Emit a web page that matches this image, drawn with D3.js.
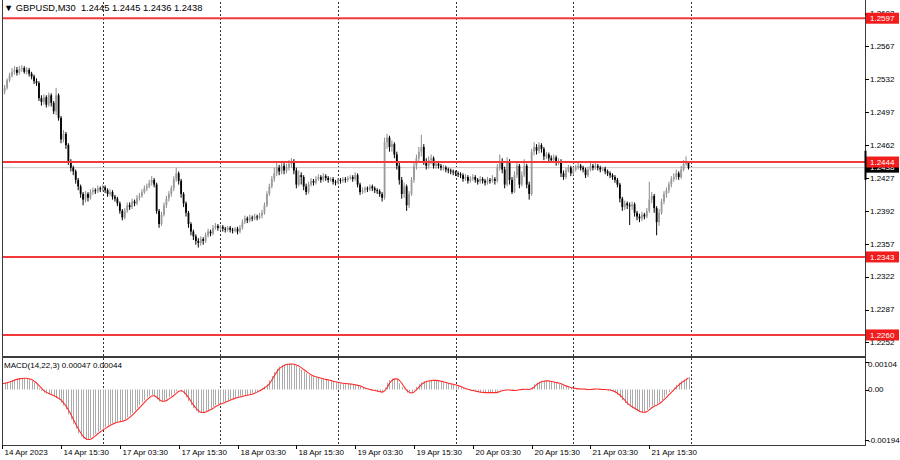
<!DOCTYPE html>
<html><head><meta charset="utf-8">
<script src="https://cdn.jsdelivr.net/npm/d3@7/dist/d3.min.js"></script>
<style>
body{margin:0;background:#fff}
svg{display:block}
text{font-family:"Liberation Sans",Arial,sans-serif;font-size:8px;fill:#000}
text.hdr{font-size:9.3px}
</style>
</head><body><svg id="chart" width="900" height="460"></svg>
<script>
const symbolTitle = "GBPUSD,M30";
const macdTitle = "MACD(14,22,3)";

const opens = [1.2515,1.2519,1.2523,1.2531,1.2536,1.2540,1.2542,1.2539,1.2543,1.2544,
1.2540,1.2542,1.2538,1.2535,1.2530,1.2528,1.2512,1.2508,1.2513,1.2505,
1.2515,1.2507,1.2498,1.2515,1.2491,1.2468,1.2474,1.2462,1.2445,1.2438,
1.2434,1.2425,1.2418,1.2410,1.2404,1.2410,1.2406,1.2412,1.2414,1.2413,
1.2416,1.2415,1.2417,1.2414,1.2410,1.2412,1.2407,1.2405,1.2400,1.2392,
1.2385,1.2392,1.2398,1.2396,1.2402,1.2400,1.2406,1.2408,1.2412,1.2416,
1.2418,1.2422,1.2425,1.2420,1.2392,1.2378,1.2388,1.2398,1.2405,1.2410,
1.2416,1.2426,1.2432,1.2424,1.2410,1.2400,1.2390,1.2378,1.2370,1.2365,
1.2360,1.2358,1.2362,1.2360,1.2366,1.2370,1.2368,1.2374,1.2376,1.2374,
1.2375,1.2373,1.2372,1.2374,1.2372,1.2371,1.2373,1.2370,1.2374,1.2380,
1.2384,1.2382,1.2385,1.2384,1.2386,1.2385,1.2387,1.2390,1.2398,1.2410,
1.2418,1.2426,1.2432,1.2438,1.2434,1.2440,1.2435,1.2438,1.2442,1.2445,
1.2435,1.2420,1.2430,1.2428,1.2418,1.2412,1.2420,1.2424,1.2422,1.2426,
1.2428,1.2425,1.2429,1.2427,1.2425,1.2426,1.2423,1.2422,1.2425,1.2424,
1.2426,1.2425,1.2427,1.2428,1.2426,1.2430,1.2420,1.2412,1.2414,1.2416,
1.2415,1.2418,1.2416,1.2414,1.2413,1.2410,1.2406,1.2465,1.2470,1.2460,
1.2463,1.2452,1.2440,1.2425,1.2410,1.2418,1.2398,1.2410,1.2425,1.2440,
1.2448,1.2455,1.2460,1.2445,1.2440,1.2446,1.2448,1.2440,1.2442,1.2440,
1.2438,1.2438,1.2436,1.2435,1.2434,1.2433,1.2432,1.2431,1.2430,1.2426,
1.2428,1.2424,1.2426,1.2428,1.2425,1.2423,1.2426,1.2424,1.2422,1.2425,
1.2424,1.2426,1.2424,1.2438,1.2445,1.2436,1.2420,1.2445,1.2425,1.2412,
1.2430,1.2440,1.2420,1.2430,1.2440,1.2420,1.2410,1.2455,1.2460,1.2456,
1.2462,1.2458,1.2450,1.2452,1.2448,1.2446,1.2449,1.2444,1.2445,1.2432,
1.2428,1.2435,1.2438,1.2432,1.2436,1.2438,1.2440,1.2438,1.2436,1.2430,
1.2436,1.2440,1.2438,1.2440,1.2438,1.2436,1.2437,1.2434,1.2432,1.2430,
1.2428,1.2425,1.2420,1.2405,1.2396,1.2400,1.2398,1.2397,1.2399,1.2390,
1.2386,1.2384,1.2388,1.2386,1.2392,1.2404,1.2408,1.2395,1.2380,1.2390,
1.2402,1.2410,1.2414,1.2420,1.2426,1.2428,1.2432,1.2428,1.2436,1.2442,
1.2445];

const highs = [1.2522,1.2526,1.2533,1.2539,1.2544,1.2546,1.2545,1.2546,1.2547,1.2546,
1.2545,1.2544,1.2540,1.2537,1.2533,1.2530,1.2515,1.2516,1.2515,1.2518,
1.2517,1.2509,1.2523,1.2517,1.2493,1.2478,1.2476,1.2464,1.2447,1.2440,
1.2436,1.2427,1.2420,1.2412,1.2413,1.2412,1.2415,1.2417,1.2416,1.2419,
1.2418,1.2420,1.2419,1.2416,1.2415,1.2414,1.2409,1.2407,1.2402,1.2394,
1.2395,1.2401,1.2401,1.2405,1.2404,1.2409,1.2411,1.2415,1.2419,1.2421,
1.2425,1.2429,1.2427,1.2422,1.2394,1.2391,1.2401,1.2408,1.2413,1.2419,
1.2429,1.2438,1.2434,1.2426,1.2412,1.2402,1.2392,1.2380,1.2372,1.2367,
1.2363,1.2365,1.2364,1.2369,1.2373,1.2372,1.2377,1.2379,1.2378,1.2377,
1.2377,1.2375,1.2376,1.2376,1.2374,1.2375,1.2375,1.2377,1.2383,1.2387,
1.2386,1.2388,1.2387,1.2389,1.2388,1.2390,1.2393,1.2401,1.2413,1.2421,
1.2429,1.2438,1.2443,1.2441,1.2444,1.2443,1.2442,1.2446,1.2448,1.2447,
1.2438,1.2435,1.2433,1.2430,1.2421,1.2423,1.2427,1.2426,1.2429,1.2431,
1.2430,1.2432,1.2431,1.2429,1.2428,1.2428,1.2425,1.2427,1.2427,1.2428,
1.2428,1.2429,1.2430,1.2430,1.2433,1.2432,1.2422,1.2417,1.2418,1.2418,
1.2420,1.2420,1.2418,1.2416,1.2415,1.2412,1.2470,1.2474,1.2472,1.2467,
1.2465,1.2455,1.2443,1.2428,1.2422,1.2420,1.2413,1.2428,1.2443,1.2452,
1.2460,1.2473,1.2463,1.2448,1.2450,1.2452,1.2450,1.2445,1.2444,1.2442,
1.2441,1.2440,1.2438,1.2437,1.2436,1.2435,1.2434,1.2433,1.2432,1.2431,
1.2430,1.2429,1.2431,1.2430,1.2427,1.2429,1.2428,1.2426,1.2428,1.2427,
1.2430,1.2428,1.2442,1.2452,1.2448,1.2439,1.2449,1.2447,1.2428,1.2434,
1.2444,1.2442,1.2434,1.2447,1.2442,1.2423,1.2458,1.2465,1.2463,1.2465,
1.2464,1.2460,1.2455,1.2454,1.2451,1.2452,1.2451,1.2448,1.2447,1.2435,
1.2438,1.2441,1.2440,1.2439,1.2441,1.2443,1.2442,1.2440,1.2438,1.2439,
1.2443,1.2442,1.2443,1.2442,1.2440,1.2439,1.2439,1.2436,1.2434,1.2432,
1.2430,1.2427,1.2422,1.2407,1.2403,1.2402,1.2401,1.2402,1.2401,1.2392,
1.2389,1.2391,1.2390,1.2395,1.2423,1.2412,1.2410,1.2397,1.2394,1.2405,
1.2413,1.2417,1.2423,1.2429,1.2432,1.2436,1.2434,1.2440,1.2446,1.2450,
1.2445];

const lows = [1.2510,1.2516,1.2521,1.2529,1.2534,1.2537,1.2536,1.2537,1.2540,1.2538,
1.2537,1.2535,1.2532,1.2527,1.2525,1.2509,1.2504,1.2505,1.2502,1.2503,
1.2503,1.2495,1.2494,1.2488,1.2464,1.2465,1.2458,1.2441,1.2434,1.2430,
1.2421,1.2414,1.2406,1.2398,1.2401,1.2402,1.2404,1.2409,1.2410,1.2411,
1.2412,1.2413,1.2411,1.2407,1.2408,1.2404,1.2402,1.2397,1.2389,1.2382,
1.2383,1.2390,1.2393,1.2394,1.2397,1.2398,1.2403,1.2406,1.2410,1.2413,
1.2416,1.2419,1.2417,1.2389,1.2374,1.2376,1.2386,1.2395,1.2402,1.2407,
1.2413,1.2423,1.2420,1.2406,1.2396,1.2386,1.2374,1.2366,1.2361,1.2356,
1.2353,1.2355,1.2356,1.2358,1.2364,1.2365,1.2366,1.2372,1.2371,1.2372,
1.2370,1.2369,1.2370,1.2369,1.2368,1.2369,1.2367,1.2368,1.2372,1.2378,
1.2379,1.2380,1.2381,1.2382,1.2382,1.2383,1.2384,1.2388,1.2396,1.2408,
1.2416,1.2423,1.2429,1.2430,1.2431,1.2431,1.2432,1.2435,1.2438,1.2431,
1.2416,1.2418,1.2420,1.2414,1.2409,1.2410,1.2418,1.2419,1.2420,1.2424,
1.2422,1.2423,1.2424,1.2422,1.2423,1.2420,1.2419,1.2420,1.2421,1.2422,
1.2422,1.2423,1.2425,1.2423,1.2424,1.2417,1.2409,1.2410,1.2411,1.2412,
1.2413,1.2413,1.2411,1.2410,1.2407,1.2402,1.2404,1.2458,1.2455,1.2455,
1.2448,1.2436,1.2420,1.2405,1.2406,1.2392,1.2395,1.2408,1.2422,1.2436,
1.2444,1.2450,1.2441,1.2436,1.2437,1.2442,1.2437,1.2437,1.2437,1.2435,
1.2435,1.2433,1.2432,1.2431,1.2430,1.2429,1.2428,1.2427,1.2423,1.2424,
1.2421,1.2422,1.2424,1.2422,1.2420,1.2421,1.2421,1.2419,1.2420,1.2421,
1.2422,1.2420,1.2422,1.2435,1.2432,1.2416,1.2418,1.2420,1.2410,1.2411,
1.2427,1.2416,1.2418,1.2428,1.2416,1.2404,1.2408,1.2451,1.2452,1.2453,
1.2454,1.2446,1.2447,1.2444,1.2443,1.2443,1.2440,1.2441,1.2428,1.2425,
1.2426,1.2433,1.2429,1.2430,1.2434,1.2436,1.2435,1.2433,1.2427,1.2428,
1.2434,1.2435,1.2436,1.2435,1.2433,1.2434,1.2431,1.2429,1.2427,1.2425,
1.2422,1.2417,1.2401,1.2392,1.2393,1.2394,1.2377,1.2393,1.2386,1.2382,
1.2380,1.2381,1.2383,1.2384,1.2390,1.2400,1.2390,1.2366,1.2376,1.2388,
1.2399,1.2406,1.2411,1.2417,1.2423,1.2425,1.2425,1.2426,1.2434,1.2440,
1.2436];

const closes = [1.2519,1.2523,1.2531,1.2536,1.2540,1.2542,1.2539,1.2543,1.2544,1.2540,
1.2542,1.2538,1.2535,1.2530,1.2528,1.2512,1.2508,1.2513,1.2505,1.2515,
1.2507,1.2498,1.2515,1.2491,1.2468,1.2474,1.2462,1.2445,1.2438,1.2434,
1.2425,1.2418,1.2410,1.2404,1.2410,1.2406,1.2412,1.2414,1.2413,1.2416,
1.2415,1.2417,1.2414,1.2410,1.2412,1.2407,1.2405,1.2400,1.2392,1.2385,
1.2392,1.2398,1.2396,1.2402,1.2400,1.2406,1.2408,1.2412,1.2416,1.2418,
1.2422,1.2425,1.2420,1.2392,1.2378,1.2388,1.2398,1.2405,1.2410,1.2416,
1.2426,1.2432,1.2424,1.2410,1.2400,1.2390,1.2378,1.2370,1.2365,1.2360,
1.2358,1.2362,1.2360,1.2366,1.2370,1.2368,1.2374,1.2376,1.2374,1.2375,
1.2373,1.2372,1.2374,1.2372,1.2371,1.2373,1.2370,1.2374,1.2380,1.2384,
1.2382,1.2385,1.2384,1.2386,1.2385,1.2387,1.2390,1.2398,1.2410,1.2418,
1.2426,1.2432,1.2438,1.2434,1.2440,1.2435,1.2438,1.2442,1.2445,1.2435,
1.2420,1.2430,1.2428,1.2418,1.2412,1.2420,1.2424,1.2422,1.2426,1.2428,
1.2425,1.2429,1.2427,1.2425,1.2426,1.2423,1.2422,1.2425,1.2424,1.2426,
1.2425,1.2427,1.2428,1.2426,1.2430,1.2420,1.2412,1.2414,1.2416,1.2415,
1.2418,1.2416,1.2414,1.2413,1.2410,1.2406,1.2465,1.2470,1.2460,1.2463,
1.2452,1.2440,1.2425,1.2410,1.2418,1.2398,1.2410,1.2425,1.2440,1.2448,
1.2455,1.2460,1.2445,1.2440,1.2446,1.2448,1.2440,1.2442,1.2440,1.2438,
1.2438,1.2436,1.2435,1.2434,1.2433,1.2432,1.2431,1.2430,1.2426,1.2428,
1.2424,1.2426,1.2428,1.2425,1.2423,1.2426,1.2424,1.2422,1.2425,1.2424,
1.2426,1.2424,1.2438,1.2445,1.2436,1.2420,1.2445,1.2425,1.2412,1.2430,
1.2440,1.2420,1.2430,1.2440,1.2420,1.2410,1.2455,1.2460,1.2456,1.2462,
1.2458,1.2450,1.2452,1.2448,1.2446,1.2449,1.2444,1.2445,1.2432,1.2428,
1.2435,1.2438,1.2432,1.2436,1.2438,1.2440,1.2438,1.2436,1.2430,1.2436,
1.2440,1.2438,1.2440,1.2438,1.2436,1.2437,1.2434,1.2432,1.2430,1.2428,
1.2425,1.2420,1.2405,1.2396,1.2400,1.2398,1.2397,1.2399,1.2390,1.2386,
1.2384,1.2388,1.2386,1.2392,1.2404,1.2408,1.2395,1.2380,1.2390,1.2402,
1.2410,1.2414,1.2420,1.2426,1.2428,1.2432,1.2428,1.2436,1.2442,1.2445,
1.2438];

// MACD main and signal, in units of 0.00001
const macdMain = [24,26,29,32,36,39,41,42,43,43,
42,39,33,25,16,5,-6,-12,-16,-18,
-22,-28,-33,-40,-50,-62,-76,-95,-115,-132,
-150,-168,-180,-189,-194,-192,-186,-178,-170,-162,
-156,-150,-144,-138,-133,-129,-126,-124,-122,-120,
-114,-107,-99,-90,-80,-70,-60,-50,-40,-31,
-24,-21,-28,-38,-46,-47,-42,-36,-30,-24,
-15,-6,0,-8,-18,-30,-45,-60,-71,-82,
-89,-89,-86,-82,-79,-73,-66,-60,-56,-53,
-49,-45,-41,-37,-34,-31,-29,-26,-24,-22,
-21,-18,-14,-10,-5,0,6,12,20,35,
52,68,80,88,93,96,98,98,97,95,
91,84,77,70,62,56,52,49,46,44,
41,39,37,35,32,30,28,26,24,23,
22,21,20,18,17,14,10,6,3,0,
-2,-4,-6,-8,-10,-12,8,26,36,42,
43,38,24,10,-3,-12,-15,-12,-2,10,
20,28,31,33,34,35,35,34,32,30,
27,24,22,20,18,16,12,8,4,1,
-2,-4,-6,-8,-10,-11,-12,-12,-12,-13,
-12,-12,-8,-4,-3,-3,-1,-3,-5,-3,
-1,0,1,2,0,-2,10,20,26,30,
33,34,33,31,29,27,25,22,18,14,
11,8,6,4,3,2,2,1,0,0,
1,2,2,1,0,0,-1,-2,-4,-8,
-14,-20,-30,-42,-52,-60,-66,-72,-78,-83,
-87,-89,-85,-78,-70,-63,-60,-56,-48,-40,
-30,-20,-10,-2,8,18,26,32,38,43,
47];

const macdSignal = [22,24,26,29,32,36,39,41,42,43,
43,41,38,32,25,15,5,-4,-11,-15,
-19,-23,-28,-34,-41,-51,-63,-78,-95,-114,
-132,-150,-166,-179,-188,-192,-191,-185,-178,-170,
-163,-156,-150,-144,-138,-133,-129,-126,-124,-122,
-119,-114,-107,-99,-90,-80,-70,-60,-50,-40,
-32,-25,-24,-29,-37,-44,-45,-42,-36,-30,
-23,-15,-7,-5,-9,-19,-31,-45,-59,-71,
-81,-87,-88,-86,-82,-78,-73,-66,-61,-56,
-53,-49,-45,-41,-37,-34,-31,-29,-26,-24,
-22,-20,-18,-14,-10,-5,0,6,13,22,
36,52,67,79,87,92,96,97,98,97,
94,90,84,77,70,63,57,52,49,46,
44,41,39,37,35,32,30,28,26,24,
23,22,21,20,18,16,14,10,6,3,
0,-2,-4,-6,-8,-10,-5,7,23,35,
40,41,35,24,10,-2,-10,-13,-10,-1,
9,19,26,31,33,34,35,35,34,32,
30,27,24,22,20,18,15,12,8,4,
1,-2,-4,-6,-8,-10,-11,-12,-12,-12,
-12,-12,-11,-8,-5,-3,-2,-2,-3,-4,
-3,-1,0,1,1,0,3,9,19,25,
30,32,33,33,31,29,27,25,22,18,
14,11,8,6,4,3,2,2,1,0,
0,1,2,2,1,0,0,-1,-2,-5,
-9,-14,-21,-31,-41,-51,-59,-66,-72,-78,
-83,-86,-87,-84,-78,-70,-64,-60,-55,-48,
-39,-30,-20,-11,-1,8,17,25,32,38,
44];
const macdUnit = 0.00001;

const levelPrices = [1.2597, 1.2444, 1.2343, 1.2260];
const bidPrice = 1.2438;
const priceTicks = [1.2602, 1.2567, 1.2532, 1.2497, 1.2462, 1.2427, 1.2392, 1.2357, 1.2322, 1.2287, 1.2252];
const macdTicks = [0.00104, 0, -0.00194];
const macdTickLabels = ["0.00104", "0.00", "-0.00194"];
const timeLabels = ["14 Apr 2023","14 Apr 15:30","17 Apr 03:30","17 Apr 15:30","18 Apr 03:30","18 Apr 15:30",
  "19 Apr 03:30","19 Apr 15:30","20 Apr 03:30","20 Apr 15:30","21 Apr 03:30","21 Apr 15:30"];
const timeLabelBars = [0,24,48,72,96,120,144,168,192,216,240,264];
const dayGridBars = [41,89,137,185,233,281];

// ---------- drawing ----------
const svg = d3.select("#chart");
const W = 900, H = 460;
const plotL = 2, plotR = 865;
const mainTop = 2, mainBot = 356;
const subTop = 358, subBot = 445;

const n = closes.length;
const x = d3.scaleLinear().domain([0, n - 1]).range([2.2, 688.5]);
const y = d3.scaleLinear().domain([1.22376, 1.26132]).range([mainBot, 3]);
const yM = d3.scaleLinear().domain([-0.00213, 0.00121]).range([subBot, subTop]);

svg.append("rect").attr("width", W).attr("height", H).attr("fill", "#fff");

const defs = svg.append("defs");
defs.append("clipPath").attr("id", "clipMain").append("rect")
  .attr("x", plotL).attr("y", mainTop).attr("width", plotR - plotL).attr("height", mainBot - mainTop);
defs.append("clipPath").attr("id", "clipSub").append("rect")
  .attr("x", plotL).attr("y", subTop).attr("width", plotR - plotL).attr("height", subBot - subTop);

// vertical dashed grid (day separators)
const grid = svg.append("g").attr("stroke", "#333").attr("stroke-width", 1).attr("stroke-dasharray", "2,2");
dayGridBars.forEach(b => {
  const gx = Math.round(x(b)) + 0.5;
  grid.append("line").attr("x1", gx).attr("x2", gx).attr("y1", mainTop).attr("y2", mainBot);
  grid.append("line").attr("x1", gx).attr("x2", gx).attr("y1", subTop).attr("y2", subBot);
});

// bid line
svg.append("line").attr("x1", plotL).attr("x2", plotR)
  .attr("y1", y(bidPrice)).attr("y2", y(bidPrice))
  .attr("stroke", "#c8c8c8").attr("stroke-width", 1);

// candles
const candles = d3.range(n).map(i => ({i, o: opens[i], h: highs[i], l: lows[i], c: closes[i]}));
const cg = svg.append("g").attr("clip-path", "url(#clipMain)");
const cs = cg.selectAll("g.c").data(candles).join("g")
  .attr("class", "c");
cs.append("line")
  .attr("x1", d => x(d.i)).attr("x2", d => x(d.i))
  .attr("y1", d => y(d.h)).attr("y2", d => y(d.l))
  .attr("stroke", d => d.c >= d.o ? "#8c8c8c" : "#000").attr("stroke-width", 1);
cs.append("rect")
  .attr("x", d => x(d.i) - 0.9).attr("width", 1.8)
  .attr("y", d => y(Math.max(d.o, d.c)))
  .attr("height", d => Math.max(0.8, Math.abs(y(d.o) - y(d.c))))
  .attr("fill", d => d.c >= d.o ? "#9a9a9a" : "#000");

// horizontal levels
svg.append("g").selectAll("line").data(levelPrices).join("line")
  .attr("x1", plotL).attr("x2", plotR)
  .attr("y1", d => y(d)).attr("y2", d => y(d))
  .attr("stroke", "#f33a3a").attr("stroke-width", 2);

// MACD histogram
const hg = svg.append("g").attr("clip-path", "url(#clipSub)");
hg.selectAll("line").data(macdMain).join("line")
  .attr("x1", (d, i) => Math.round(x(i)) + 0.5).attr("x2", (d, i) => Math.round(x(i)) + 0.5)
  .attr("y1", yM(0)).attr("y2", d => yM(d * macdUnit))
  .attr("stroke", "#ababab").attr("stroke-width", 1);
// signal line
hg.append("path").datum(macdSignal)
  .attr("fill", "none").attr("stroke", "#ff2a2a").attr("stroke-width", 1.1)
  .attr("d", d3.line().x((d, i) => x(i)).y(d => yM(d * macdUnit)).curve(d3.curveMonotoneX));

// frame
const frame = svg.append("g").attr("stroke", "#3c3c3c").attr("fill", "none");
frame.append("line").attr("x1", 2.5).attr("x2", 2.5).attr("y1", 0).attr("y2", subBot);
frame.append("line").attr("x1", plotR + 0.5).attr("x2", plotR + 0.5).attr("y1", 0).attr("y2", subBot + 0.5);
frame.append("line").attr("x1", plotL).attr("x2", plotR + 1).attr("y1", mainBot + 1).attr("y2", mainBot + 1).attr("stroke-width", 2.2);
frame.append("line").attr("x1", plotL).attr("x2", plotR + 1).attr("y1", subBot + 0.5).attr("y2", subBot + 0.5);

// price axis ticks and labels
const pa = svg.append("g");
const f4 = d3.format(".4f"), f5 = d3.format(".5f");
priceTicks.forEach(p => {
  pa.append("line").attr("x1", plotR).attr("x2", plotR + 4).attr("y1", Math.round(y(p)) + 0.5).attr("y2", Math.round(y(p)) + 0.5).attr("stroke", "#000");
  pa.append("text").attr("x", plotR + 5).attr("y", y(p)).attr("dy", "0.35em").text(f4(p));
});
// current bid label (black)
pa.append("rect").attr("x", plotR + 1).attr("y", y(bidPrice) - 5).attr("width", 33).attr("height", 10).attr("fill", "#000");
pa.append("text").attr("x", plotR + 5).attr("y", y(bidPrice)).attr("dy", "0.35em").style("fill", "#fff").text(f4(bidPrice));
// level labels (red)
levelPrices.forEach(p => {
  pa.append("rect").attr("x", plotR + 1).attr("y", y(p) - 5.5).attr("width", 33).attr("height", 11).attr("fill", "#f21c1c");
  pa.append("text").attr("x", plotR + 5).attr("y", y(p)).attr("dy", "0.35em").style("fill", "#fff").text(f4(p));
});
// axis marker near last price
pa.append("line").attr("x1", plotR + 0.5).attr("x2", plotR + 0.5).attr("y1", y(1.2456)).attr("y2", y(1.2425)).attr("stroke", "#000").attr("stroke-width", 2);

// MACD axis
macdTicks.forEach((v, k) => {
  pa.append("line").attr("x1", plotR).attr("x2", plotR + 4).attr("y1", Math.round(yM(v)) + 0.5).attr("y2", Math.round(yM(v)) + 0.5).attr("stroke", "#000");
  pa.append("text").attr("x", plotR + 3).attr("y", yM(v) + (k === 0 ? 2 : 0)).attr("dy", "0.35em").text(macdTickLabels[k]);
});

// time axis
const ta = svg.append("g");
timeLabelBars.forEach((b, k) => {
  const tx = Math.round(x(b)) + 0.5;
  ta.append("line").attr("x1", tx).attr("x2", tx).attr("y1", subBot).attr("y2", subBot + 4).attr("stroke", "#000");
  ta.append("text").attr("x", tx + 2).attr("y", 452).attr("dy", "0.35em").text(timeLabels[k]);
});

// titles
const last = n - 1;
svg.append("text").attr("class", "hdr").attr("x", 4).attr("y", 8).attr("dy", "0.35em").style("white-space", "pre")
  .text("\u25BC " + symbolTitle + "  " + [opens[last], highs[last], lows[last], closes[last]].map(f4).join(" "));
svg.append("text").attr("x", 4).attr("y", 365).attr("dy", "0.35em")
  .text(macdTitle + " " + f5(macdMain[last] * macdUnit) + " " + f5(macdSignal[last] * macdUnit));
</script>
</body></html>
